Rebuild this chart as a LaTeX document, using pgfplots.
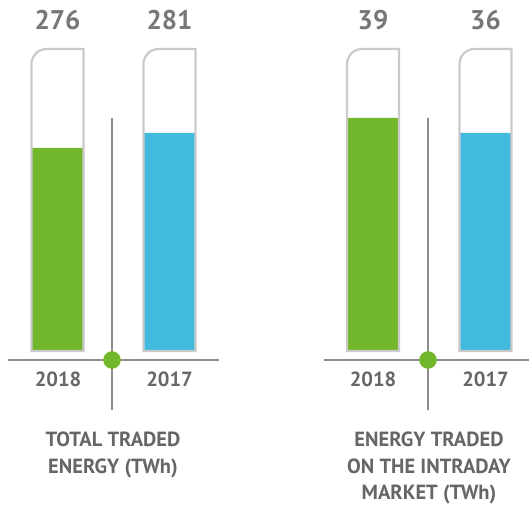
\documentclass[border=0pt]{standalone}
\usepackage{pgfplots}
\pgfplotsset{compat=1.18}
\usepackage{fontspec}
\setmainfont{PT Sans}[BoldFont={PT Sans Bold}]
\definecolor{tgreen}{HTML}{72B62C}
\definecolor{tblue}{HTML}{42BADD}
\definecolor{tubegray}{HTML}{CACACA}
\definecolor{linegray}{HTML}{8C8C8C}
\definecolor{txtgray}{HTML}{666666}
\definecolor{valgray}{HTML}{777777}
\begin{document}
\begin{tikzpicture}
\begin{axis}[
  name=ax,
  width=529pt, height=505pt, scale only axis,
  xmin=0, xmax=529, ymin=-155, ymax=350,
  axis lines=none, ticks=none, clip=false,
]
% fill levels of the tubes
\addplot[ybar, bar width=52, bar shift=0pt, fill=tgreen, draw=none] coordinates {(57.5,202) (373,232)};
\addplot[ybar, bar width=52, bar shift=0pt, fill=tblue, draw=none] coordinates {(169.5,217) (485.5,217)};
% tube outlines
\draw[tubegray, line width=2.2pt] (axis cs:31.5,-1) -- (axis cs:31.5,286) arc[start angle=180,end angle=90,radius=15pt] -- (axis cs:83.5,301) -- (axis cs:83.5,-1) -- cycle;
\draw[tubegray, line width=2.2pt] (axis cs:143.5,-1) -- (axis cs:143.5,286) arc[start angle=180,end angle=90,radius=15pt] -- (axis cs:195.5,301) -- (axis cs:195.5,-1) -- cycle;
\draw[tubegray, line width=2.2pt] (axis cs:347,-1) -- (axis cs:347,286) arc[start angle=180,end angle=90,radius=15pt] -- (axis cs:399,301) -- (axis cs:399,-1) -- cycle;
\draw[tubegray, line width=2.2pt] (axis cs:459.5,-1) -- (axis cs:459.5,286) arc[start angle=180,end angle=90,radius=15pt] -- (axis cs:511.5,301) -- (axis cs:511.5,-1) -- cycle;
% axes lines
\addplot[linegray, line width=1.3pt] coordinates {(8,-10) (219,-10)};
\addplot[linegray, line width=1.3pt] coordinates {(324,-10) (529,-10)};
\addplot[linegray, line width=1.3pt] coordinates {(112,232) (112,-60)};
\addplot[linegray, line width=1.3pt] coordinates {(428,232) (428,-60)};
\addplot[only marks, mark=*, mark size=8.5pt, color=tgreen] coordinates {(112,-10) (428,-10)};
% values
\addplot[draw=none, mark=none, nodes near coords, point meta=explicit symbolic,
  nodes near coords style={font=\fontsize{27}{30}\selectfont\bfseries, text=valgray, anchor=base, inner sep=0pt}]
  table[meta=lab, row sep=\\] {x y lab\\ 57.5 320.7 276\\ 169.5 320.7 281\\ 373 320.7 39\\ 485.5 320.7 36\\};
% years
\addplot[draw=none, mark=none, nodes near coords, point meta=explicit symbolic,
  nodes near coords style={font=\fontsize{20.5}{24}\selectfont\bfseries, text=txtgray, anchor=base, inner sep=0pt}]
  table[meta=lab, row sep=\\] {x y lab\\ 58 -37 2018\\ 169.5 -37 2017\\ 373 -37 2018\\ 485.5 -37 2017\\};
% titles
\begin{scope}[every node/.style={font=\fontsize{20.5}{24}\selectfont\bfseries, text=txtgray, anchor=base, inner sep=0pt}]
\node at (axis cs:113,-96) {TOTAL TRADED};
\node at (axis cs:113,-123) {ENERGY (TWh)};
\node at (axis cs:429,-96) {ENERGY TRADED};
\node at (axis cs:429,-123) {ON THE INTRADAY};
\node at (axis cs:429,-149) {MARKET (TWh)};
\end{scope}
\end{axis}
\pgfresetboundingbox
\path (ax.south west) rectangle (ax.north east);
\end{tikzpicture}
\end{document}
